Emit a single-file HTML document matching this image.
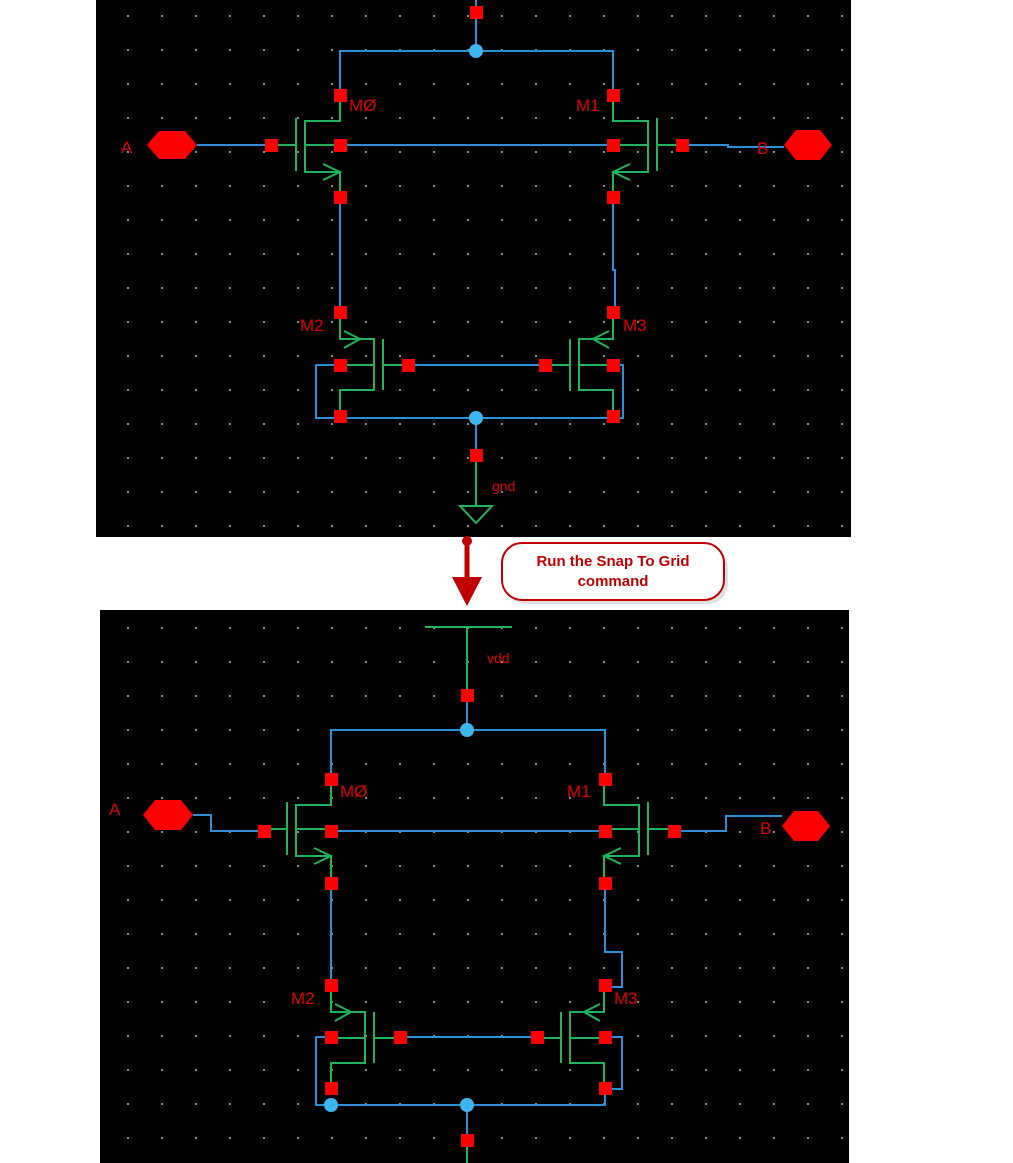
<!DOCTYPE html>
<html><head><meta charset="utf-8"><style>
html,body{margin:0;padding:0;background:#fff;width:1013px;height:1163px;overflow:hidden}
svg{display:block}
</style></head><body>
<svg width="1013" height="1163" viewBox="0 0 1013 1163" xmlns="http://www.w3.org/2000/svg" font-family="Liberation Sans, sans-serif">
<defs>
<pattern id="g" x="25" y="15" width="34" height="34" patternUnits="userSpaceOnUse">
<rect x="0" y="0" width="2" height="2" fill="#8a8a8a"/>
</pattern>
<g id="pmosL">
<!-- drain to channel -->
<polyline points="340,95 340,121 305,121 305,172 340,172 340,197" fill="none" stroke="#1fb35a" stroke-width="2"/>
<line x1="305" y1="145" x2="340" y2="145" stroke="#1fb35a" stroke-width="2"/>
<line x1="296" y1="118" x2="296" y2="171" stroke="#1fb35a" stroke-width="2"/>
<line x1="271" y1="145" x2="296" y2="145" stroke="#1fb35a" stroke-width="2"/>
<polyline points="323,164 340,172 323,180" fill="none" stroke="#1fb35a" stroke-width="2"/>
</g>
<g id="nmosL">
<polyline points="340,312 340,339 374,339 374,390 340,390 340,416" fill="none" stroke="#1fb35a" stroke-width="2"/>
<line x1="340" y1="365" x2="374" y2="365" stroke="#1fb35a" stroke-width="2"/>
<line x1="383" y1="339" x2="383" y2="390" stroke="#1fb35a" stroke-width="2"/>
<line x1="383" y1="365" x2="408" y2="365" stroke="#1fb35a" stroke-width="2"/>
<polyline points="344,331 360,339 344,348" fill="none" stroke="#1fb35a" stroke-width="2"/>
</g>
</defs>

<!-- panels -->
<rect x="96" y="0" width="755" height="537" fill="#000"/>
<rect x="96" y="0" width="755" height="537" fill="url(#g)"/>
<rect x="100" y="610" width="749" height="553" fill="#000"/>
<rect x="100" y="610" width="749" height="553" fill="url(#g)"/>

<!-- ===== TOP ===== -->
<g>
<g fill="none" stroke="#2a8fd6" stroke-width="2">
<line x1="476" y1="0" x2="476" y2="51"/>
<polyline points="340,95 340,51 613,51 613,95"/>
<line x1="340" y1="145" x2="613" y2="145"/>
<line x1="197" y1="145" x2="271" y2="145"/>
<polyline points="682,145 728,145 728,147 784,147"/>
<line x1="340" y1="197" x2="340" y2="312"/>
<polyline points="613,197 613,270 615,270 615,312"/>
<line x1="408" y1="365" x2="545" y2="365"/>
<polyline points="340,365 316,365 316,418 623,418 623,365 613,365"/>
<line x1="476" y1="418" x2="476" y2="455"/>
</g>
<use href="#pmosL"/>
<use href="#pmosL" transform="translate(953,0) scale(-1,1)"/>
<use href="#nmosL"/>
<use href="#nmosL" transform="translate(953,0) scale(-1,1)"/>
<line x1="476" y1="455" x2="476" y2="505" stroke="#1fb35a" stroke-width="2"/>
<polygon points="460,506 492,506 476,523" fill="none" stroke="#1fb35a" stroke-width="2"/>
<g fill="#f00">
<rect x="470" y="6" width="13" height="13"/>
<rect x="334" y="89" width="13" height="13"/><rect x="607" y="89" width="13" height="13"/>
<rect x="334" y="139" width="13" height="13"/><rect x="607" y="139" width="13" height="13"/>
<rect x="265" y="139" width="13" height="13"/><rect x="676" y="139" width="13" height="13"/>
<rect x="334" y="191" width="13" height="13"/><rect x="607" y="191" width="13" height="13"/>
<rect x="334" y="306" width="13" height="13"/><rect x="607" y="306" width="13" height="13"/>
<rect x="334" y="359" width="13" height="13"/><rect x="607" y="359" width="13" height="13"/>
<rect x="402" y="359" width="13" height="13"/><rect x="539" y="359" width="13" height="13"/>
<rect x="334" y="410" width="13" height="13"/><rect x="607" y="410" width="13" height="13"/>
<rect x="470" y="449" width="13" height="13"/>
<polygon points="147,145 159,131 185,131 197,145 185,159 159,159"/>
<polygon points="784,145 796,130 820,130 832,145 820,160 796,160"/>
</g>
<circle cx="476" cy="51" r="7" fill="#3fb5f0"/>
<circle cx="476" cy="418" r="7" fill="#3fb5f0"/>
<g fill="#e00000" font-size="17">
<text x="349" y="111">MØ</text><text x="576" y="111">M1</text>
<text x="300" y="331">M2</text><text x="623" y="331">M3</text>
<text x="121" y="153">A</text><text x="757" y="154">B</text>
<text x="492" y="491" font-size="14">gnd</text>
</g>
</g>

<!-- ===== ARROW + CALLOUT ===== -->
<line x1="467" y1="541" x2="467" y2="580" stroke="#c00000" stroke-width="5"/>
<circle cx="467" cy="541" r="5" fill="#c00000"/>
<polygon points="452,577 482,577 467,606" fill="#c00000"/>
<rect x="506" y="547" width="222" height="57" rx="20" fill="#ccc" opacity="0.6"/>
<rect x="502" y="543" width="222" height="57" rx="20" fill="#fff" stroke="#c00000" stroke-width="2"/>
<text x="613" y="566" text-anchor="middle" font-size="15" font-weight="bold" fill="#c00000">Run the Snap To Grid</text>
<text x="613" y="586" text-anchor="middle" font-size="15" font-weight="bold" fill="#c00000">command</text>

<!-- ===== BOTTOM ===== -->
<g>
<line x1="425" y1="627" x2="512" y2="627" stroke="#1fb35a" stroke-width="2"/>
<line x1="467" y1="627" x2="467" y2="695" stroke="#1fb35a" stroke-width="2"/>
<g fill="none" stroke="#2a8fd6" stroke-width="2">
<line x1="467" y1="695" x2="467" y2="730"/>
<polyline points="331,779 331,730 605,730 605,779"/>
<line x1="331" y1="831" x2="605" y2="831"/>
<polyline points="193,815 211,815 211,831 264,831"/>
<polyline points="674,831 726,831 726,816 782,816"/>
<line x1="331" y1="883" x2="331" y2="985"/>
<polyline points="605,883 605,952 622,952 622,987 605,987"/>
<line x1="400" y1="1037" x2="537" y2="1037"/>
<polyline points="331,1037 316,1037 316,1105 605,1105 605,1089"/>
<polyline points="605,1037 622,1037 622,1089 605,1089"/>
<line x1="467" y1="1105" x2="467" y2="1140"/>
</g>
<line x1="467" y1="1140" x2="467" y2="1163" stroke="#1fb35a" stroke-width="2"/>
<g transform="translate(-9,684)">
<use href="#pmosL"/>
<use href="#pmosL" transform="translate(953,0) scale(-1,1)"/>
</g>
<g transform="translate(-9,673)">
<use href="#nmosL"/>
<use href="#nmosL" transform="translate(953,0) scale(-1,1)"/>
</g>
<g fill="#f00">
<rect x="461" y="689" width="13" height="13"/>
<rect x="325" y="773" width="13" height="13"/><rect x="599" y="773" width="13" height="13"/>
<rect x="325" y="825" width="13" height="13"/><rect x="599" y="825" width="13" height="13"/>
<rect x="258" y="825" width="13" height="13"/><rect x="668" y="825" width="13" height="13"/>
<rect x="325" y="877" width="13" height="13"/><rect x="599" y="877" width="13" height="13"/>
<rect x="325" y="979" width="13" height="13"/><rect x="599" y="979" width="13" height="13"/>
<rect x="325" y="1031" width="13" height="13"/><rect x="599" y="1031" width="13" height="13"/>
<rect x="394" y="1031" width="13" height="13"/><rect x="531" y="1031" width="13" height="13"/>
<rect x="325" y="1082" width="13" height="13"/><rect x="599" y="1082" width="13" height="13"/>
<rect x="461" y="1134" width="13" height="13"/>
<polygon points="143,815 155,800 181,800 193,815 181,830 155,830"/>
<polygon points="782,826 794,811 818,811 830,826 818,841 794,841"/>
</g>
<circle cx="467" cy="730" r="7" fill="#3fb5f0"/>
<circle cx="467" cy="1105" r="7" fill="#3fb5f0"/>
<circle cx="331" cy="1105" r="7" fill="#3fb5f0"/>
<g fill="#e00000" font-size="17">
<text x="340" y="797">MØ</text><text x="567" y="797">M1</text>
<text x="291" y="1004">M2</text><text x="614" y="1004">M3</text>
<text x="109" y="815">A</text><text x="760" y="834">B</text>
<text x="487" y="663" font-size="14">vdd</text>
</g>
</g>
</svg>
</body></html>
